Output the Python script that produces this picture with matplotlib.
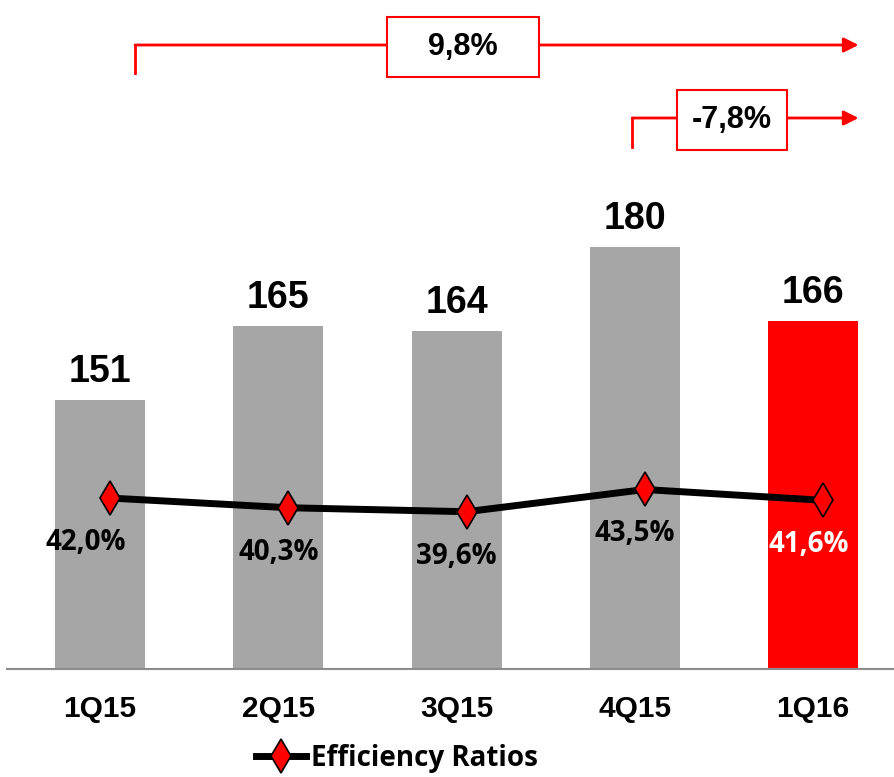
import matplotlib
matplotlib.use("Agg")
import matplotlib.pyplot as plt
import matplotlib.transforms as mtransforms
from matplotlib.patches import Rectangle
from matplotlib.lines import Line2D

quarters = ["1Q15", "2Q15", "3Q15", "4Q15", "1Q16"]
expenses = [151, 165, 164, 180, 166]
efficiency = [42.0, 40.3, 39.6, 43.5, 41.6]
efficiency_labels = ["42,0%", "40,3%", "39,6%", "43,5%", "41,6%"]
growth_labels = ["9,8%", "-7,8%"]

GREY = "#A6A6A6"
RED = "#FF0000"
ARIAL = ["Liberation Sans", "DejaVu Sans"]
CALIBRI = ["Open Sans", "DejaVu Sans"]

fig = plt.figure(figsize=(8.94, 7.77), dpi=100)
ax = fig.add_axes([7 / 894, 1 - 669 / 777, 887 / 894, 669 / 777])
ax2 = ax.twinx()

x = list(range(len(quarters)))
colors = [GREY] * (len(quarters) - 1) + [RED]
ax.bar(x, expenses, width=0.505, color=colors, zorder=2)
for xi, v in zip(x, expenses):
    ax.annotate(str(v), (xi, v), xytext=(0, 13), textcoords="offset points",
                ha="center", va="baseline", fontsize=27, fontweight="bold",
                family=ARIAL)

ax.set_xlim(-0.522, 4.454)
ax.set_ylim(100, 226.8)
ax.set_yticks([])
ax.set_xticks(x)
ax.set_xticklabels(quarters, fontsize=21.5, fontweight="bold", family=ARIAL)
ax.tick_params(axis="x", length=0, pad=19)
for s in ["top", "left", "right"]:
    ax.spines[s].set_visible(False)
ax.spines["bottom"].set_color("#8C8C8C")
ax.spines["bottom"].set_linewidth(1.5)

# efficiency line sits slightly right of the bar centres
shift = mtransforms.ScaledTranslation(10 / 100, 0, fig.dpi_scale_trans)
ax2.plot(x, efficiency, color="black", lw=5, marker="d", markersize=17,
         markerfacecolor=RED, markeredgecolor="black", markeredgewidth=1.2,
         transform=ax2.transData + shift, zorder=3)
ax2.set_ylim(12, 129.4)
ax2.set_yticks([])
for s in ["top", "left", "right", "bottom"]:
    ax2.spines[s].set_visible(False)
label_dx = [-10, 0, 0, 0, -3]
for xi, v, lab, dx in zip(x, efficiency, efficiency_labels, label_dx):
    ax2.annotate(lab, (xi, v), xytext=(dx, -32), textcoords="offset points",
                 ha="center", va="center", fontsize=20, fontweight="bold",
                 family=CALIBRI,
                 color="white" if xi == len(x) - 1 else "black",
                 transform=ax2.transData + shift)

# growth arrows across the top
blend = mtransforms.blended_transform_factory(ax.transData, ax.transAxes)
arrows = [
    # x start, x end, y level, tick bottom, box centre x, box width
    (0.196, 4.255, 1 - 45 / 669, 1 - 73 / 669, 2.037, 0.853),
    (2.985, 4.255, 1 - 118 / 669, 1 - 147 / 669, 3.546, 0.617),
]
for (x0, x1, y, yb, bx, bw), lab in zip(arrows, growth_labels):
    ax.add_line(Line2D([x0, x0], [yb, y], color=RED, lw=2,
                       transform=blend, clip_on=False))
    ax.annotate("", xy=(x1, y), xytext=(x0, y), xycoords=blend,
                textcoords=blend,
                arrowprops=dict(arrowstyle="-|>", color=RED, lw=2,
                                mutation_scale=22, shrinkA=0, shrinkB=0))
    bh = 60 / 669
    ax.add_patch(Rectangle((bx - bw / 2, y - bh / 2 - 0.003), bw, bh,
                           facecolor="white", edgecolor=RED, lw=1.5,
                           transform=blend, clip_on=False, zorder=4))
    ax.text(bx, y - 0.003, lab, transform=blend, ha="center", va="center",
            fontsize=22, fontweight="bold", family=ARIAL, zorder=5)

handle = Line2D([], [], color="black", lw=5, marker="d", markersize=17,
                markerfacecolor=RED, markeredgecolor="black",
                markeredgewidth=1.2)
fig.legend([handle], ["Efficiency Ratios"], loc="center",
           bbox_to_anchor=(0.444, 0.024), frameon=False, handlelength=1.8,
           handletextpad=0.2,
           prop=dict(family=CALIBRI, weight="bold", size=20))

fig.savefig("out.png", dpi=100)
